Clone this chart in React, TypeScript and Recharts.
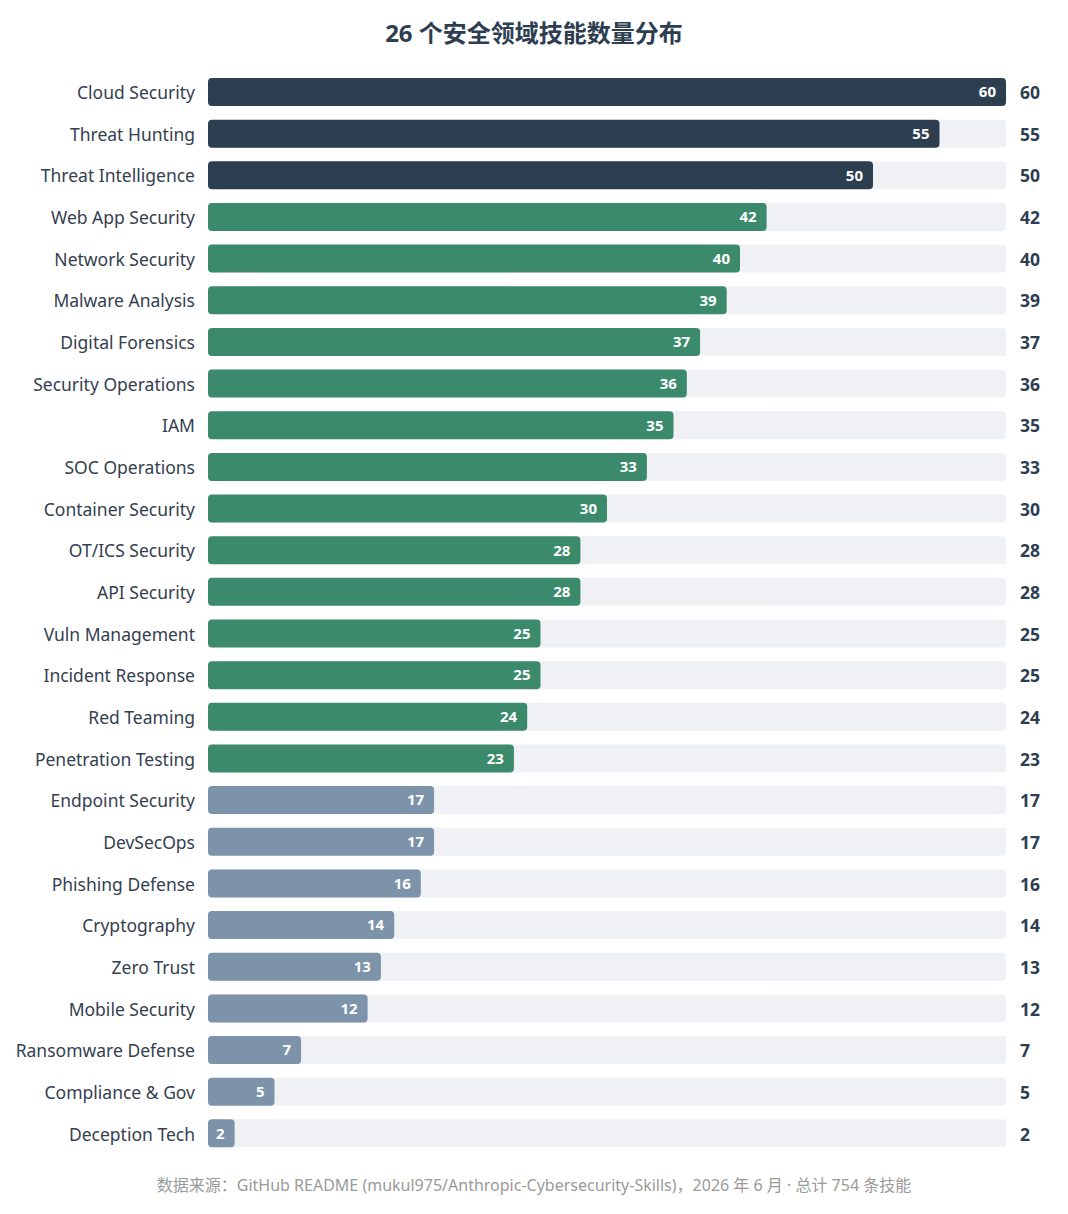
import React from "react";
import { BarChart, Bar, XAxis, YAxis, Cell, LabelList } from "recharts";

// Skill counts per security domain
const categories = [
  "Cloud Security", "Threat Hunting", "Threat Intelligence", "Web App Security",
  "Network Security", "Malware Analysis", "Digital Forensics", "Security Operations",
  "IAM", "SOC Operations", "Container Security", "OT/ICS Security", "API Security",
  "Vuln Management", "Incident Response", "Red Teaming", "Penetration Testing",
  "Endpoint Security", "DevSecOps", "Phishing Defense", "Cryptography", "Zero Trust",
  "Mobile Security", "Ransomware Defense", "Compliance & Gov", "Deception Tech",
];
const counts = [60, 55, 50, 42, 40, 39, 37, 36, 35, 33, 30, 28, 28, 25, 25, 24, 23, 17, 17, 16, 14, 13, 12, 7, 5, 2];
// 0 = top tier, 1 = mid tier, 2 = long tail
const tiers = [0, 0, 0, 1, 1, 1, 1, 1, 1, 1, 1, 1, 1, 1, 1, 1, 1, 2, 2, 2, 2, 2, 2, 2, 2, 2];
const tierColors = ["#2e3e51", "#3c8a6c", "#7c93aa"];
const axisMax = 60;

const data = categories.map((name, i) => ({ name, value: counts[i], tier: tiers[i] }));
const valueByName: Record<string, number> = Object.fromEntries(data.map((d) => [d.name, d.value]));

const FONT = "'Noto Sans', 'Noto Sans CJK SC', sans-serif";

const LeftTick = (props: any) => {
  const { x, y, payload } = props;
  return (
    <text x={x - 5} y={y} dy="0.42em" textAnchor="end" fontSize={17.5} fill="#34404f" fontFamily={FONT}>
      {payload.value}
    </text>
  );
};

const RightTick = (props: any) => {
  const { x, y, payload } = props;
  return (
    <text x={x + 6} y={y} dy="0.42em" textAnchor="start" fontSize={17.5} fontWeight={700} fill="#2e3e51" fontFamily={FONT}>
      {valueByName[payload.value]}
    </text>
  );
};

export default function App() {
  return (
    <div style={{ position: "absolute", left: 0, top: 0, width: 1068, height: 1214, background: "#fff", fontFamily: FONT }}>
      <div style={{ position: "absolute", left: 0, top: 14, width: 1068, textAlign: "center", fontSize: 24, fontWeight: 700, color: "#2e3e51" }}>
        26 个安全领域技能数量分布
      </div>
      <div style={{ position: "absolute", left: 0, top: 0 }}>
        <BarChart
          width={1068}
          height={1214}
          data={data}
          layout="vertical"
          margin={{ top: 71, right: 0, bottom: 60, left: 0 }}
          barCategoryGap={0}
        >
          <XAxis type="number" domain={[0, axisMax]} hide />
          <YAxis
            yAxisId="left"
            type="category"
            dataKey="name"
            width={208}
            axisLine={false}
            tickLine={false}
            tick={<LeftTick />}
            interval={0}
          />
          <YAxis
            yAxisId="right"
            orientation="right"
            type="category"
            dataKey="name"
            width={62}
            axisLine={false}
            tickLine={false}
            tick={<RightTick />}
            interval={0}
          />
          <Bar
            yAxisId="left"
            dataKey="value"
            barSize={28}
            radius={4}
            background={{ fill: "#f0f1f5", radius: 4 } as any}
            isAnimationActive={false}
          >
            {data.map((d, i) => (
              <Cell key={i} fill={tierColors[d.tier]} />
            ))}
            <LabelList
              dataKey="value"
              position="insideRight"
              offset={10}
              fill="#ffffff"
              fontSize={15}
              fontWeight={700}
              fontFamily={FONT}
            />
          </Bar>
        </BarChart>
      </div>
      <div style={{ position: "absolute", left: 0, top: 1172, width: 1068, textAlign: "center", fontSize: 16, color: "#9a9a9a" }}>
        数据来源：GitHub README (mukul975/Anthropic-Cybersecurity-Skills)，2026 年 6 月 · 总计 754 条技能
      </div>
    </div>
  );
}
